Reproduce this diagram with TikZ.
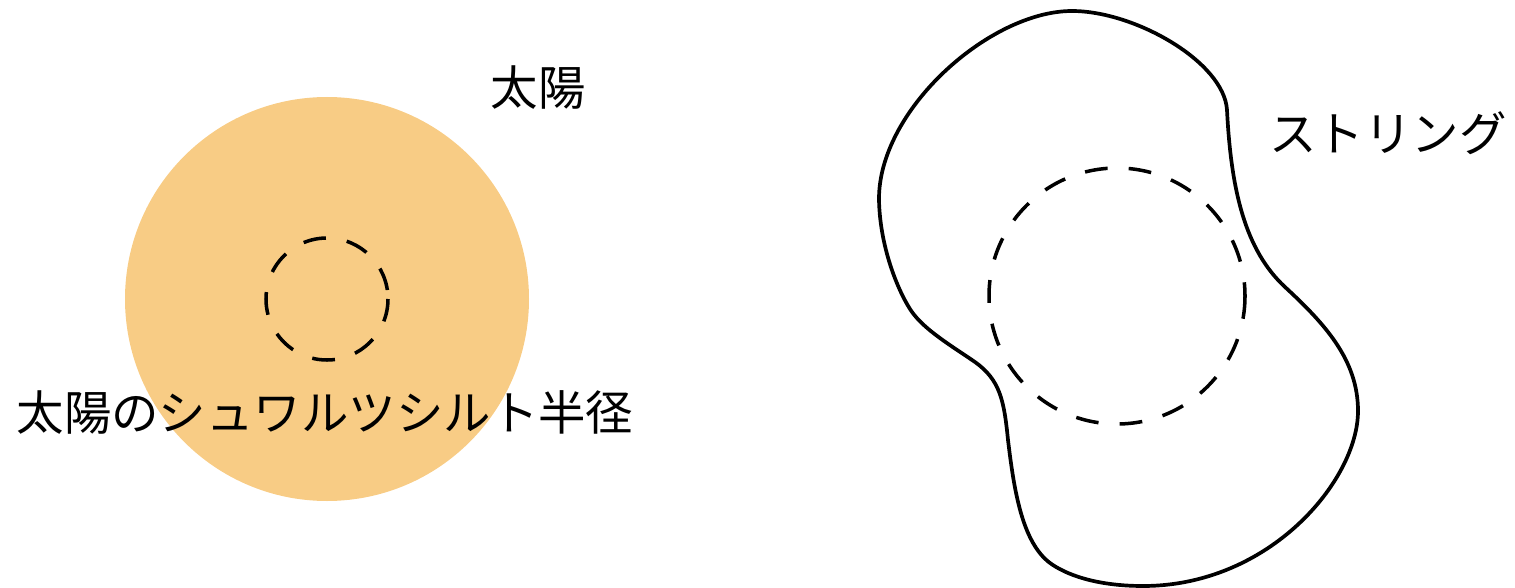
\documentclass[tikz,border=0pt]{standalone}
\usepackage{fontspec}
\newfontfamily\jp{Noto Sans CJK JP}
\definecolor{sunfill}{HTML}{F8CC85}
\begin{document}
\begin{tikzpicture}[x=0.02cm,y=-0.02cm,
  lbl/.style={font=\jp\fontsize{27pt}{30pt}\selectfont, inner sep=0pt, text=black},
  horizon/.style={draw=black, line width=2pt, dash pattern=on 13pt off 12pt},
  stringline/.style={draw=black, line width=2.1pt}]
\useasboundingbox (0,0) rectangle (1515,588);
% sun
\fill[sunfill] (327,299) circle [radius=202];
\draw[horizon] (327,299) circle [radius=61];
\node[lbl] (sunlbl) at (538,88) {太陽};
\node[lbl] (srlbl) at (325,412) {太陽のシュワルツシルト半径};
% string
\draw[stringline] (1072,11)
  .. controls (1135,11) and (1224,62) .. (1227,110)
  .. controls (1231,190) and (1245,250) .. (1285,287)
  .. controls (1325,324) and (1358,360) .. (1358,411)
  .. controls (1358,480) and (1270,586) .. (1143,586)
  .. controls (1095,586) and (1065,574) .. (1050,563)
  .. controls (1022,542) and (1014,490) .. (1008,440)
  .. controls (1004,400) and (1000,380) .. (975,362)
  .. controls (950,345) and (925,330) .. (912,312)
  .. controls (900,295) and (880,250) .. (879,200)
  .. controls (878,110) and (990,11) .. (1072,11) -- cycle;
\draw[horizon] (1117,296) circle [radius=128];
\node[lbl] (strlbl) at (1388,133) {ストリング};
\end{tikzpicture}
\end{document}
